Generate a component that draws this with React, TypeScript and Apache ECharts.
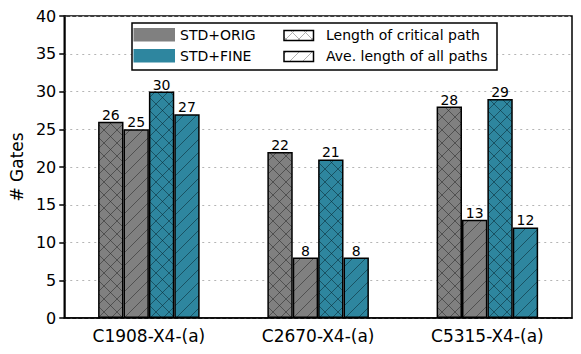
import React, { useEffect, useRef } from 'react';
import * as echarts from 'echarts';

const categories = ['C1908-X4-(a)', 'C2670-X4-(a)', 'C5315-X4-(a)'];
const origCritical = [26, 22, 28];
const origAverage = [25, 8, 13];
const fineCritical = [30, 21, 29];
const fineAverage = [27, 8, 12];
const yMin = 0;
const yMax = 40;
const yInterval = 5;
const methodNames = ['STD+ORIG', 'STD+FINE'];
const metricNames = ['Length of critical path', 'Ave. length of all paths'];

const GRAY = '#808080';
const TEAL = '#2e869f';
const FONT = 'DejaVu Sans';

function makePattern(bg: string, line: string, kind: 'x' | '/' | 'solid') {
  const s = 13;
  const c = document.createElement('canvas');
  c.width = s;
  c.height = s;
  const ctx = c.getContext('2d')!;
  ctx.fillStyle = bg;
  ctx.fillRect(0, 0, s, s);
  if (kind !== 'solid') {
    ctx.strokeStyle = line;
    ctx.lineWidth = 1;
    ctx.beginPath();
    for (const k of [0, s, 2 * s]) {
      ctx.moveTo(-2, k + 2);
      ctx.lineTo(s + 2, k - s - 2);
    }
    if (kind === 'x') {
      for (const k of [-s, 0, s]) {
        ctx.moveTo(-2, -2 + k);
        ctx.lineTo(s + 2, s + 2 + k);
      }
    }
    ctx.stroke();
  }
  return { image: c, repeat: 'repeat', imageWidth: s, imageHeight: s } as any;
}

export default function App() {
  const ref = useRef<HTMLDivElement>(null);
  useEffect(() => {
    document.body.style.margin = '0';
    const chart = echarts.init(ref.current!, undefined, { renderer: 'svg' });
    const pOrigX = makePattern(GRAY, 'rgba(40,40,40,0.55)', 'x');
    const pOrigS = makePattern(GRAY, 'rgba(40,40,40,0.55)', '/');
    const pFineX = makePattern(TEAL, 'rgba(10,40,50,0.55)', 'x');
    const pFineS = makePattern(TEAL, 'rgba(10,40,50,0.55)', '/');
    const lX = makePattern('#ffffff', '#b0b0b0', 'x');
    const lS = makePattern('#ffffff', '#b0b0b0', '/');

    const mk = (name: string, data: number[], pat: any) => ({
      type: 'bar',
      name,
      data,
      barGap: '0%',
      barCategoryGap: '40%',
      itemStyle: { color: pat, borderColor: '#000', borderWidth: 1.5 },
      label: {
        show: true,
        position: 'top',
        distance: 0,
        color: '#000',
        fontSize: 14,
        fontFamily: FONT,
      },
    });

    const textStyle = { fill: '#000', fontSize: 14, fontFamily: FONT, verticalAlign: 'middle' };

    chart.setOption({
      animation: false,
      grid: {
        left: 58,
        right: 9,
        top: 16,
        bottom: 36,
        show: true,
        borderColor: '#000',
        borderWidth: 1.5,
      },
      xAxis: {
        type: 'category',
        data: categories,
        axisLine: { lineStyle: { color: '#000', width: 1.5 } },
        axisTick: { alignWithLabel: true, length: 6, lineStyle: { color: '#000', width: 2.5 } },
        axisLabel: { color: '#000', fontSize: 17, fontFamily: FONT, margin: 9 },
      },
      yAxis: {
        type: 'value',
        min: yMin,
        max: yMax,
        interval: yInterval,
        name: '# Gates',
        nameLocation: 'middle',
        nameGap: 36,
        nameTextStyle: { color: '#000', fontSize: 17, fontFamily: FONT },
        axisLine: { show: true, lineStyle: { color: '#000', width: 1.5 } },
        axisTick: { show: true, length: 5, lineStyle: { color: '#000', width: 1.5 } },
        axisLabel: { color: '#000', fontSize: 16, fontFamily: FONT, margin: 8 },
        splitLine: { lineStyle: { color: '#b5b5b5', type: [2, 4], width: 1 } },
      },
      series: [
        mk('STD+ORIG critical', origCritical, pOrigX),
        mk('STD+ORIG average', origAverage, pOrigS),
        mk('STD+FINE critical', fineCritical, pFineX),
        mk('STD+FINE average', fineAverage, pFineS),
      ],
      graphic: [
        { type: 'rect', z: 100, shape: { x: 132, y: 23, width: 365, height: 47 }, style: { fill: '#fff', stroke: '#000', lineWidth: 1.5 } },
        { type: 'rect', z: 101, shape: { x: 133.5, y: 28, width: 41.5, height: 13.5 }, style: { fill: GRAY, stroke: null } },
        { type: 'rect', z: 101, shape: { x: 133.5, y: 49, width: 41.5, height: 13.5 }, style: { fill: TEAL, stroke: null } },
        { type: 'text', z: 101, x: 180, y: 35, style: { ...textStyle, text: methodNames[0] } },
        { type: 'text', z: 101, x: 180, y: 56, style: { ...textStyle, text: methodNames[1] } },
        { type: 'rect', z: 101, shape: { x: 284, y: 30.5, width: 29.5, height: 10 }, style: { fill: lX, stroke: '#000', lineWidth: 1.5 } },
        { type: 'rect', z: 101, shape: { x: 284, y: 51.5, width: 29.5, height: 10 }, style: { fill: lS, stroke: '#000', lineWidth: 1.5 } },
        { type: 'text', z: 101, x: 326, y: 35, style: { ...textStyle, text: metricNames[0] } },
        { type: 'text', z: 101, x: 326, y: 56, style: { ...textStyle, text: metricNames[1] } },
      ],
    });
    return () => chart.dispose();
  }, []);
  return <div ref={ref} style={{ width: 581, height: 354 }} />;
}
